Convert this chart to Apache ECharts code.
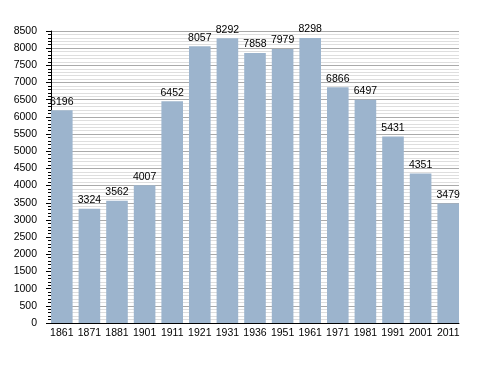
<!DOCTYPE html>
<html><head><meta charset="utf-8">
<script src="https://cdn.jsdelivr.net/npm/echarts@6/dist/echarts.min.js"></script>
<style>html,body{margin:0;padding:0;background:#fff}#c{width:488px;height:373px}</style>
</head><body><div id="c"></div>
<script>
const categories = ["1861","1871","1881","1901","1911","1921","1931","1936","1951","1961","1971","1981","1991","2001","2011"];
const population = [6196,3324,3562,4007,6452,8057,8292,7858,7979,8298,6866,6497,5431,4351,3479];
const yMin = 0, yMax = 8500, yStep = 500;

const chart = echarts.init(document.getElementById('c'));
chart.setOption({
  animation: false,
  textStyle: {fontFamily: 'Liberation Sans, Arial, sans-serif'},
  grid: [
    {left: 51, right: 29, top: 31, bottom: 50, containLabel: false},
    {left: 48, right: 26, top: 31, bottom: 50, containLabel: false}
  ],
  xAxis: [
    {gridIndex: 0, type: 'category', data: categories,
     axisLine: {lineStyle: {color: '#000', width: 1}},
     axisTick: {show: false}, axisLabel: {show: false}},
    {gridIndex: 1, type: 'category', data: categories,
     axisLine: {show: false}, axisTick: {show: false},
     axisLabel: {color: '#000', fontSize: 10.5, margin: 5, interval: 0}}
  ],
  yAxis: [
    {gridIndex: 0, type: 'value', min: yMin, max: yMax, interval: yStep,
     axisLine: {show: true, lineStyle: {color: '#000'}},
     axisTick: {show: true, length: 5, lineStyle: {color: '#000'}},
     minorTick: {show: true, splitNumber: 5, length: 3, lineStyle: {color: '#000'}},
     splitLine: {show: true, lineStyle: {color: '#aaaaaa', width: 1}},
     minorSplitLine: {show: true, lineStyle: {color: '#dedede', width: 1}},
     axisLabel: {color: '#000', fontSize: 10.5, margin: 14, formatter: v => String(v)}},
    {gridIndex: 1, type: 'value', min: yMin, max: yMax, interval: yStep, show: false}
  ],
  series: [{
    type: 'bar', data: population, barWidth: 21.6,
    xAxisIndex: 1, yAxisIndex: 1,
    itemStyle: {color: '#9cb4cd'},
    label: {show: true, position: 'top', color: '#000', fontSize: 10.5, distance: 3}
  }]
});
</script></body></html>
